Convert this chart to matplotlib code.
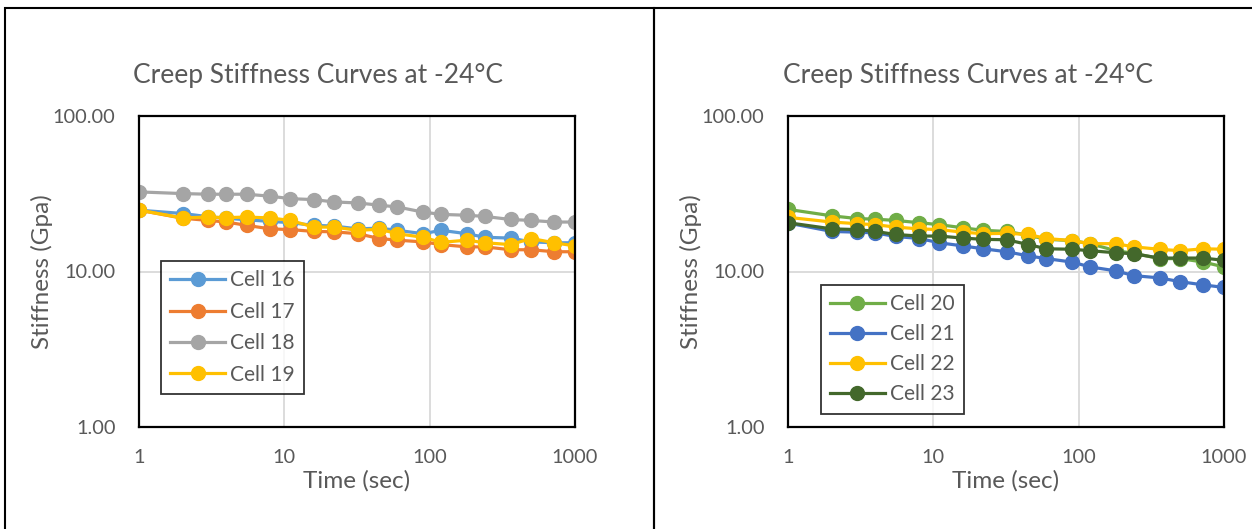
import numpy as np
import matplotlib
matplotlib.use("Agg")
import matplotlib.pyplot as plt
from matplotlib.patches import Rectangle
from matplotlib.ticker import FixedLocator, FixedFormatter, NullLocator

plt.rcParams['font.family'] = ['Lato', 'DejaVu Sans']

# time steps (sec)
t = [1, 2, 3, 4, 5.5, 8, 11, 16, 22, 32, 45, 60, 90, 120, 180, 240, 360, 500, 720, 1000]

# left chart (Gpa)
cell16 = [24.8, 23.6, 22.5, 22.0, 21.5, 21.0, 20.6, 19.8, 19.6, 18.8,
          19.0, 18.4, 17.5, 18.4, 17.5, 16.6, 16.4, 15.5, 15.3, 15.3]
cell17 = [24.8, 22.0, 21.3, 20.8, 19.8, 18.8, 18.6, 18.1, 18.0, 17.5,
          16.3, 15.9, 15.5, 14.9, 14.4, 14.4, 13.8, 13.8, 13.4, 13.4]
cell18 = [32.5, 31.7, 31.4, 31.4, 31.4, 30.5, 29.4, 29.0, 28.0, 27.6,
          26.7, 26.0, 24.1, 23.3, 23.0, 22.6, 21.6, 21.3, 20.8, 20.8]
cell19 = [24.8, 22.1, 22.4, 22.2, 22.4, 22.1, 21.3, 19.3, 19.3, 18.4,
          18.7, 17.5, 16.6, 15.4, 15.9, 15.3, 14.9, 16.3, 15.3, 14.6]

# right chart (Gpa)
cell20 = [25.1, 22.8, 21.9, 21.7, 21.3, 20.6, 20.0, 19.1, 18.4, 18.1,
          17.1, 16.1, 15.8, 15.1, 13.6, 13.1, 12.1, 12.1, 11.5, 10.7]
cell21 = [20.5, 18.1, 17.9, 17.7, 16.8, 16.3, 15.3, 14.6, 14.0, 13.4,
          12.6, 12.1, 11.5, 10.7, 10.1, 9.4, 9.1, 8.6, 8.2, 7.9]
cell22 = [22.3, 20.8, 20.3, 20.0, 19.3, 18.8, 18.6, 17.9, 17.5, 17.6,
          17.3, 16.3, 15.8, 15.1, 15.1, 14.4, 13.9, 13.6, 14.0, 13.9]
cell23 = [20.6, 18.8, 18.6, 18.1, 17.3, 16.9, 16.9, 16.4, 16.1, 16.0,
          14.9, 14.0, 13.9, 13.6, 13.2, 13.0, 12.2, 12.2, 12.2, 11.8]

left_names = ['Cell 16', 'Cell 17', 'Cell 18', 'Cell 19']
right_names = ['Cell 20', 'Cell 21', 'Cell 22', 'Cell 23']
left_colors = ['#5B9BD5', '#ED7D31', '#A5A5A5', '#FFC000']
right_colors = ['#70AD47', '#4472C4', '#FFC000', '#43682B']

title = 'Creep Stiffness Curves at -24°C'
grey = '#595959'

fig = plt.figure(figsize=(12.52, 5.29), dpi=100)

# panel frames
fig.patches.append(Rectangle((5/1252, -0.05), 649/1252, 1.05 - 8/529, transform=fig.transFigure,
                             fill=False, edgecolor='black', linewidth=1.5))
fig.patches.append(Rectangle((654/1252, -0.05), 0.5, 1.05 - 8/529, transform=fig.transFigure,
                             fill=False, edgecolor='black', linewidth=1.5))


def make_chart(left, series, names, colors, legend_xy, title_x, lspace):
    ax = fig.add_axes([left, 1 - 427/529, 436/1252, 311/529])
    for ys, name, c in zip(series, names, colors):
        ax.plot(t, ys, color=c, marker='o', markersize=10, linewidth=2.3, label=name)
    ax.set_xscale('log')
    ax.set_yscale('log')
    ax.set_xlim(1, 1000)
    ax.set_ylim(1, 100)
    ax.xaxis.set_major_locator(FixedLocator([1, 10, 100, 1000]))
    ax.xaxis.set_major_formatter(FixedFormatter(['1', '10', '100', '1000']))
    ax.yaxis.set_major_locator(FixedLocator([1, 10, 100]))
    ax.yaxis.set_major_formatter(FixedFormatter(['1.00', '10.00', '100.00']))
    ax.xaxis.set_minor_locator(NullLocator())
    ax.yaxis.set_minor_locator(NullLocator())
    ax.tick_params(length=0, labelsize=14.4, labelcolor=grey)
    ax.tick_params(axis='x', pad=16)
    ax.tick_params(axis='y', pad=17)
    ax.grid(True, color='#D9D9D9', linewidth=1.3)
    ax.set_axisbelow(True)
    for s in ax.spines.values():
        s.set_linewidth(1.6)
        s.set_color('black')
    ax.set_xlabel('Time (sec)', fontsize=17.5, color=grey)
    ax.set_ylabel('Stiffness (Gpa)', fontsize=17.5, color=grey)
    ax.xaxis.set_label_coords(0.5, -0.14)
    ax.yaxis.set_label_coords(-0.198, 0.5)
    leg = ax.legend(loc='upper left', bbox_to_anchor=legend_xy, borderaxespad=0,
                    fontsize=15, frameon=True, fancybox=False, handlelength=2.6,
                    handletextpad=0.25, labelspacing=lspace, borderpad=0.45)
    leg.get_frame().set_edgecolor('black')
    leg.get_frame().set_linewidth(1.3)
    for txt in leg.get_texts():
        txt.set_color(grey)
    fig.text(title_x, 1 - 75/529, title, fontsize=19, color=grey, ha='center', va='center')
    return ax


make_chart(139/1252, [cell16, cell17, cell18, cell19], left_names, left_colors,
           (0.0506, 0.5338), 318/1252, 0.55)
make_chart(788/1252, [cell20, cell21, cell22, cell23], right_names, right_colors,
           (0.0757, 0.4566), 968/1252, 0.48)

fig.savefig('out.png', dpi=100)
